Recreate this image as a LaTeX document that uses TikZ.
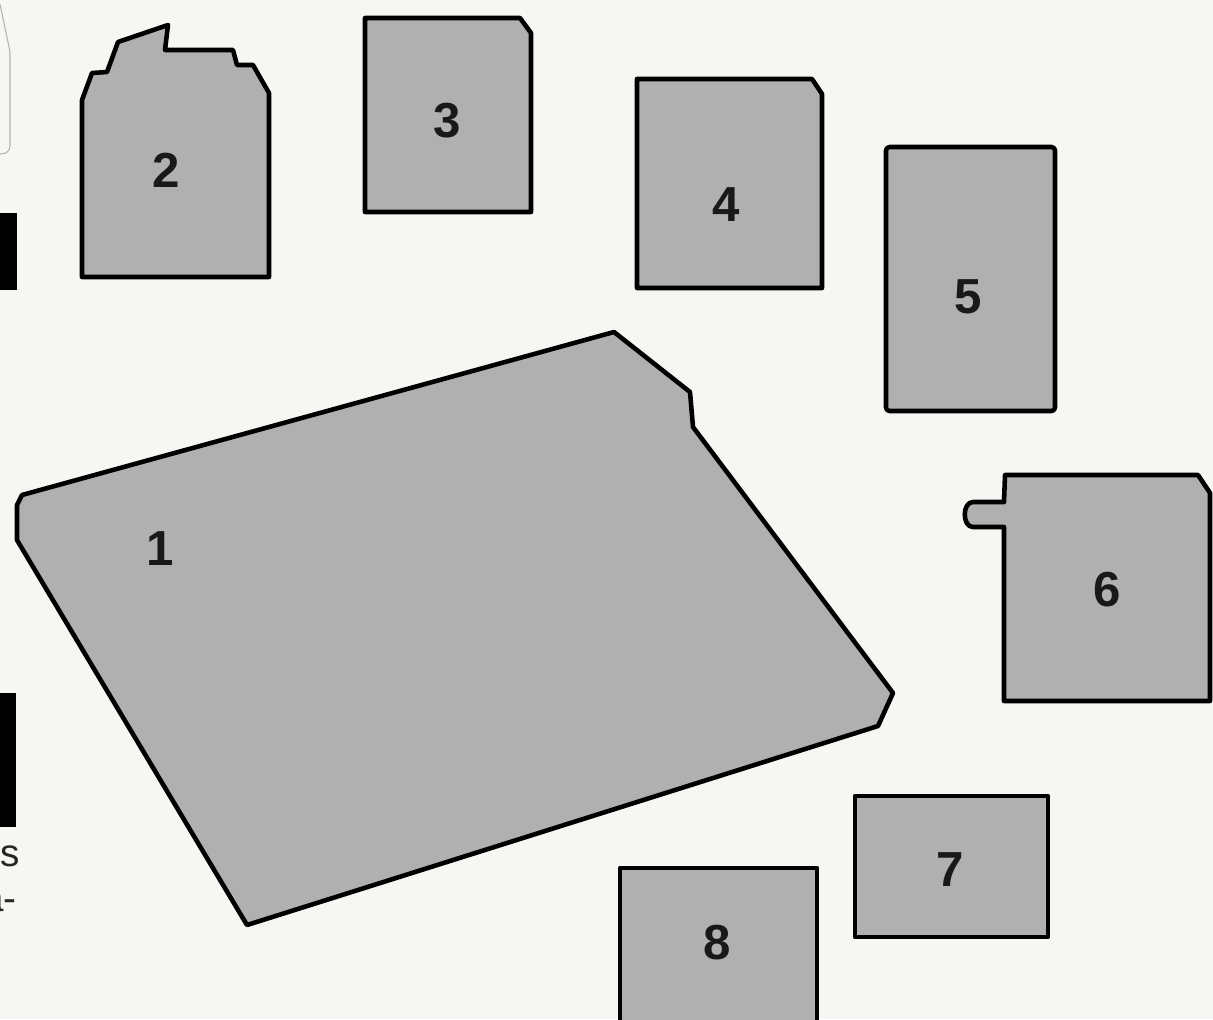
\documentclass[tikz,border=0pt]{standalone}
\usepackage{fontspec}
\setmainfont{Liberation Sans}
\begin{document}
\begin{tikzpicture}[x=0.02cm,y=-0.02cm,
  piece/.style={draw=black,line width=2.6pt,line join=round,fill=piecegray},
  num/.style={font=\fontsize{28}{28}\selectfont\bfseries,text=black!90,inner sep=0pt},
  edgetext/.style={font=\fontsize{22}{22}\selectfont,text=black!85,inner sep=0pt}]
\definecolor{piecegray}{RGB}{176,176,176}
\definecolor{paper}{RGB}{246,246,243}
\fill[paper] (0,0) rectangle (1213,1019);
\useasboundingbox (0,0) rectangle (1213,1019);
% fragments at the left edge
\draw[black!30,line width=0.6pt] (0,4) -- (8,42) -- (10,52) -- (10,146) .. controls (10,152) and (5,154) .. (0,154);
\fill[black] (-5,213) rectangle (17,290);
\fill[black] (-5,693) rectangle (16,827);
\node[edgetext,anchor=base west] (s) at (0,866) {s};
\node[edgetext,anchor=base east] (a) at (17,911) {a-};
% piece 1
\draw[piece] (22,495) -- (614,332) -- (690,392) -- (693,427) -- (893,693) -- (878,726) -- (247,925) -- (17,540) -- (17,505) -- cycle;
\node[num] (n1) at (160,549) {1};
% piece 2
\draw[piece] (82,277) -- (82,100) -- (92,73) -- (107,72) -- (118,42) -- (168,25) -- (165,50) -- (233,50) -- (237,65) -- (253,65) -- (269,93) -- (269,277) -- cycle;
\node[num] (n2) at (166,170) {2};
% piece 3
\draw[piece] (365,18) -- (520,18) -- (531,33) -- (531,212) -- (365,212) -- cycle;
\node[num] (n3) at (447,121) {3};
% piece 4
\draw[piece] (637,79) -- (812,79) -- (822,94) -- (822,288) -- (637,288) -- cycle;
\node[num] (n4) at (726,205) {4};
% piece 5
\draw[piece,rounded corners=2pt] (886,147) rectangle (1055,411);
\node[num] (n5) at (968,297) {5};
% piece 6
\draw[piece] (1005,475) -- (1198,475) -- (1210,493) -- (1210,701) -- (1004,701) -- (1004,527) -- (973,527) .. controls (962,527) and (962,502) .. (973,502) -- (1004,502) -- cycle;
\node[num] (n6) at (1107,590) {6};
% piece 7
\draw[piece] (855,796) rectangle (1048,937);
\node[num] (n7) at (950,870) {7};
% piece 8
\draw[piece] (620,868) rectangle (817,1030);
\node[num] (n8) at (717,943) {8};
\end{tikzpicture}
\end{document}
